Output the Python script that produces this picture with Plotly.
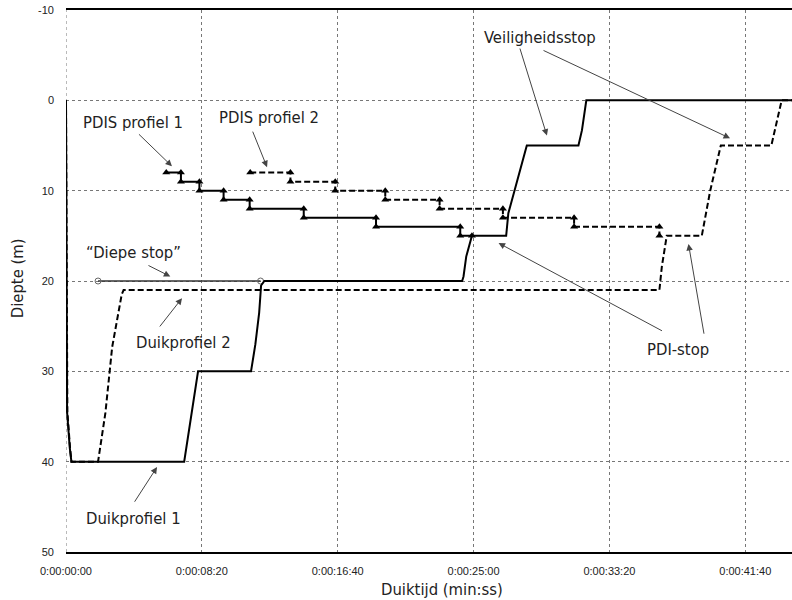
import plotly.graph_objects as go

# dive time in seconds, depth in metres
p1_t = [0, 2, 4, 14, 20, 435, 449, 476, 486, 681, 697, 711, 718, 730, 1458, 1463, 1473, 1494,
        1620, 1628, 1650, 1668, 1696, 1886, 1899, 1915, 2672]
p1_d = [0, 15, 34.5, 38.5, 40, 40, 37.2, 31.7, 30, 30, 27, 23.5, 20.5, 20, 20, 19.5, 17.3, 15,
        15, 12.5, 10, 8, 5, 5, 3.3, 0, 0]

p2_t = [0, 3, 5, 15, 20, 118, 145, 170, 194, 205, 212, 2184, 2193, 2211, 2340, 2353, 2371, 2410,
        2596, 2634, 2672]
p2_d = [0, 15, 34.5, 38.5, 40, 40, 34.6, 27.3, 23.6, 21.5, 21, 21, 18.4, 15, 15, 12.9, 10, 5,
        5, 0, 0]

deep_t = [118, 716]
deep_d = [20, 20]

pdis1_t = [369, 423, 423, 491, 491, 580, 580, 676, 676, 875, 875, 1141, 1141, 1451, 1451, 1494]
pdis1_d = [8, 8, 9, 9, 10, 10, 11, 11, 12, 12, 13, 13, 14, 14, 15, 15]

pdis2_t = [678, 826, 826, 991, 991, 1175, 1175, 1375, 1375, 1608, 1608, 1870, 1870, 2184, 2184]
pdis2_d = [8, 8, 9, 9, 10, 10, 11, 11, 12, 12, 13, 13, 14, 14, 15]

x_ticks = [0, 500, 1000, 1500, 2000, 2500]
x_labels = ["0:00:00:00", "0:00:08:20", "0:00:16:40", "0:00:25:00", "0:00:33:20", "0:00:41:40"]
y_ticks = [-10, 0, 10, 20, 30, 40, 50]
y_labels = ["-10", "0", "10", "20", "30", "40", "50"]

# label, text position, arrows (tail, head)
labels = [
    ("PDIS profiel 1", (246, 2.4), [((263, 3.6), (390, 7.3))]),
    ("PDIS profiel 2", (748, 1.9), [((685, 3.3), (740, 7.4))]),
    ("\u201cDiepe stop\u201d", (247, 16.8), [((298, 18.2), (384, 19.5))]),
    ("Duikprofiel 2", (434, 26.8), [((341, 25.2), (427, 21.9))]),
    ("Duikprofiel 1", (249, 46.3), [((249, 44.6), (335, 40.6))]),
    ("Veiligheidsstop", (1745, -7.0), [((1669, -5.9), (1770, 3.9)), ((1752, -5.6), (2444, 4.2))]),
    ("PDI-stop", (2253, 27.6), [((2199, 25.6), (1592, 15.8)), ((2349, 26.0), (2291, 15.9))]),
]

NARROW = "Liberation Sans Narrow, DejaVu Sans Condensed, Arial Narrow, sans-serif"
TEXT_SIZE = 16.5

fig = go.Figure()

fig.add_trace(go.Scatter(x=deep_t, y=deep_d, mode="lines+markers",
                         line=dict(color="#333", width=1.5),
                         marker=dict(symbol="circle-open", size=6, color="#666", line=dict(width=1))))
fig.add_trace(go.Scatter(x=p2_t, y=p2_d, mode="lines",
                         line=dict(color="black", width=2, dash="6px,3px")))
fig.add_trace(go.Scatter(x=pdis2_t, y=pdis2_d, mode="lines+markers",
                         line=dict(color="black", width=2, dash="6px,3px"),
                         marker=dict(symbol="triangle-up", size=7, color="black")))
fig.add_trace(go.Scatter(x=p1_t, y=p1_d, mode="lines",
                         line=dict(color="black", width=2)))
fig.add_trace(go.Scatter(x=pdis1_t, y=pdis1_d, mode="lines+markers",
                         line=dict(color="black", width=2),
                         marker=dict(symbol="triangle-up", size=7, color="black")))

for text, (tx, ty), arrows in labels:
    fig.add_annotation(x=tx, y=ty, text=text, showarrow=False,
                       font=dict(family=NARROW, size=TEXT_SIZE, color="#222"))
    for (ax, ay), (hx, hy) in arrows:
        fig.add_annotation(x=hx, y=hy, ax=ax, ay=ay, xref="x", yref="y", axref="x", ayref="y",
                           text="", showarrow=True, arrowhead=2, arrowsize=1.3,
                           arrowwidth=1, arrowcolor="#444")

# axis titles
fig.add_annotation(text="Duiktijd (min:ss)", xref="paper", yref="paper", x=0.518, y=0,
                   yanchor="middle", yshift=-37, showarrow=False,
                   font=dict(family=NARROW, size=TEXT_SIZE, color="#222"))
fig.add_annotation(text="Diepte (m)", xref="paper", yref="paper", x=0, y=0.505,
                   xanchor="center", xshift=-49, textangle=-90, showarrow=False,
                   font=dict(family=NARROW, size=TEXT_SIZE, color="#222"))

# dotted left edge
fig.add_shape(type="line", xref="x", yref="paper", x0=0, x1=0, y0=0, y1=1,
              line=dict(color="#777", width=1, dash="dot"), layer="below")

fig.update_xaxes(range=[0, 2672], tickvals=x_ticks, ticktext=x_labels, automargin=False,
                 showgrid=True, gridcolor="#777", griddash="dot", gridwidth=1,
                 showline=True, linecolor="black", linewidth=1.5, mirror=True,
                 zeroline=False, ticks="", ticklabelstandoff=8,
                 tickfont=dict(family="Liberation Sans, Arial, sans-serif", size=11, color="#222"))
fig.update_yaxes(range=[50, -10], tickvals=y_ticks, ticktext=y_labels, automargin=False,
                 showgrid=True, gridcolor="#777", griddash="dot", gridwidth=1,
                 showline=False, zeroline=False, ticks="", ticklabelstandoff=11,
                 ticklabeloverflow="allow",
                 tickfont=dict(family="Liberation Sans, Arial, sans-serif", size=11, color="#222"))

fig.update_layout(width=792, height=600, showlegend=False,
                  margin=dict(l=66, r=0, t=10, b=48),
                  paper_bgcolor="white", plot_bgcolor="white")

# drop the browser's default body margin so the figure fills the window
fig.write_html("out.html", config={"displayModeBar": False},
               post_script="document.body.style.margin = '0';")
